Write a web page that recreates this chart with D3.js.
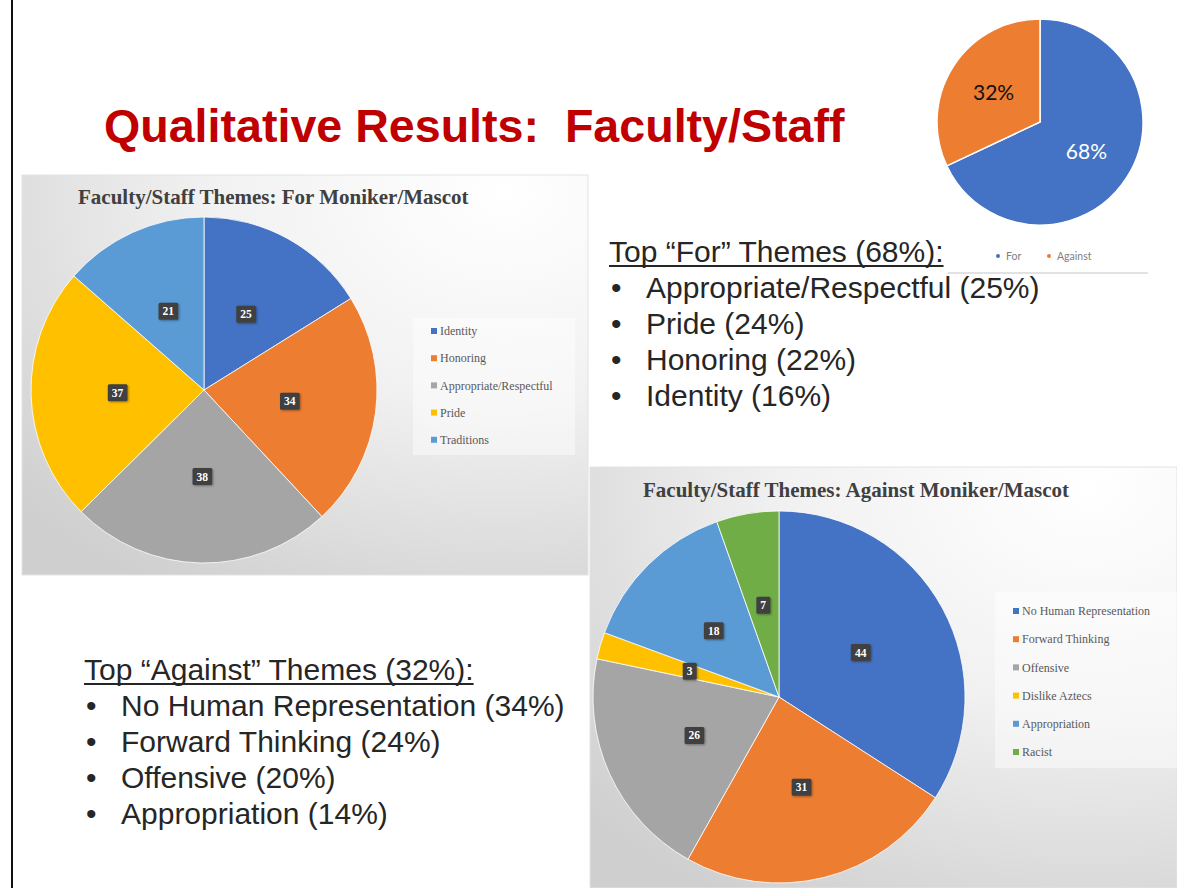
<!DOCTYPE html>
<html>
<head>
<meta charset="utf-8">
<script src="https://cdn.jsdelivr.net/npm/d3@7"></script>
<style>
  html, body { margin: 0; padding: 0; background: #fff; }
  svg { display: block; }
  text { white-space: pre; }
</style>
</head>
<body>
<div id="container"></div>
<script>
// data
const splitLabels = ["For", "Against"]
const splitShares = [68, 32]

const forThemes = ["Identity", "Honoring", "Appropriate/Respectful", "Pride", "Traditions"]
const forCounts = [25, 34, 38, 37, 21]

const againstThemes = ["No Human Representation", "Forward Thinking", "Offensive", "Dislike Aztecs", "Appropriation", "Racist"]
const againstCounts = [44, 31, 26, 3, 18, 7]

const forTop = ["Appropriate/Respectful (25%)", "Pride (24%)", "Honoring (22%)", "Identity (16%)"]
const againstTop = ["No Human Representation (34%)", "Forward Thinking (24%)", "Offensive (20%)", "Appropriation (14%)"]

const officeColors = ["#4472C4", "#ED7D31", "#A5A5A5", "#FFC000", "#5B9BD5", "#70AD47"]

const width = 1177
const height = 888

const svg = d3.select("#container")
	.append("svg")
	.attr("width", width)
	.attr("height", height)

const defs = svg.append("defs")

const grad = defs.append("radialGradient")
	.attr("id", "panelBg")
	.attr("cx", "0.85").attr("cy", "0.05").attr("r", "1.15")
grad.append("stop").attr("offset", "0").attr("stop-color", "#ffffff")
grad.append("stop").attr("offset", "0.45").attr("stop-color", "#f1f1f1")
grad.append("stop").attr("offset", "1").attr("stop-color", "#cfcfcf")

const shadow = defs.append("filter").attr("id", "lblShadow")
	.attr("x", "-30%").attr("y", "-30%").attr("width", "170%").attr("height", "170%")
shadow.append("feDropShadow")
	.attr("dx", 1).attr("dy", 1).attr("stdDeviation", 0.8)
	.attr("flood-color", "#000").attr("flood-opacity", 0.35)

// left rule
svg.append("line")
	.attr("x1", 12).attr("x2", 12)
	.attr("y1", 0).attr("y2", height)
	.attr("stroke", "#111").attr("stroke-width", 2)

// slide title
svg.append("text")
	.attr("x", 104).attr("y", 142)
	.attr("font-family", "'Liberation Sans', Arial, sans-serif")
	.attr("font-weight", "bold")
	.attr("font-size", 46.6)
	.attr("fill", "#C00000")
	.text("Qualitative Results:  Faculty/Staff")

// ---------- small For/Against pie ----------
const splitColor = d3.scaleOrdinal().domain(splitLabels).range(officeColors.slice(0, 2))
const splitData = d3.pie().sort(null).value(d => d.v)(splitLabels.map((k, i) => ({ k, v: splitShares[i] })))
const splitArc = d3.arc().innerRadius(0).outerRadius(103)
const splitG = svg.append("g").attr("transform", "translate(1040,122)")

splitG.selectAll("path")
	.data(splitData)
	.join("path")
	.attr("d", splitArc)
	.attr("fill", d => splitColor(d.data.k))
	.attr("stroke", "#fff")
	.attr("stroke-width", 1.5)

const splitLabelArc = d3.arc().innerRadius(0).outerRadius(110)
splitG.selectAll("text")
	.data(splitData)
	.join("text")
	.attr("transform", d => `translate(${splitLabelArc.centroid(d)})`)
	.attr("text-anchor", "middle")
	.attr("dy", "0.36em")
	.attr("font-family", "Lato, 'Liberation Sans', sans-serif")
	.attr("font-size", 21)
	.attr("fill", (d, i) => i === 0 ? "#fff" : "#111")
	.text(d => d.data.v + "%")

const splitLegend = svg.append("g").attr("transform", "translate(998,256)")
const splitLegendX = d3.scaleOrdinal().domain(splitLabels).range([0, 51])
splitLabels.forEach(k => {
	const g = splitLegend.append("g").attr("transform", `translate(${splitLegendX(k)},0)`)
	g.append("circle").attr("r", 2).attr("fill", splitColor(k))
	g.append("text")
		.attr("x", 8).attr("dy", "0.35em")
		.attr("font-family", "Lato, 'Liberation Sans', sans-serif")
		.attr("font-size", 10.5)
		.attr("fill", "#7f7f7f")
		.text(k)
})

svg.append("line")
	.attr("x1", 948).attr("x2", 1148)
	.attr("y1", 273).attr("y2", 273)
	.attr("stroke", "#d9d9d9").attr("stroke-width", 1.5)

// ---------- themed pie panels ----------
function drawPanel({ x, y, w, h, title, titleX, titleY, labels, values, cx, cy, r, legendBox, legendY0, legendStep }) {
	const g = svg.append("g").attr("transform", `translate(${x},${y})`)

	g.append("rect")
		.attr("width", w).attr("height", h)
		.attr("fill", "url(#panelBg)")
		.attr("stroke", "#e3e3e3")

	g.append("text")
		.attr("x", titleX).attr("y", titleY)
		.attr("font-family", "'Liberation Serif', 'Times New Roman', serif")
		.attr("font-weight", "bold")
		.attr("font-size", 21)
		.attr("fill", "#404040")
		.text(title)

	const color = d3.scaleOrdinal().domain(labels).range(officeColors)
	const slices = d3.pie().sort(null).value(d => d.v)(labels.map((k, i) => ({ k, v: values[i] })))
	const arc = d3.arc().innerRadius(0).outerRadius(r)

	const pieG = g.append("g").attr("transform", `translate(${cx},${cy})`)
	pieG.selectAll("path")
		.data(slices)
		.join("path")
		.attr("d", arc)
		.attr("fill", d => color(d.data.k))
		.attr("stroke", "#fff")
		.attr("stroke-width", 0.8)

	const lbl = pieG.selectAll("g.lbl")
		.data(slices)
		.join("g")
		.attr("class", "lbl")
		.attr("transform", d => `translate(${arc.centroid(d)})`)

	lbl.append("rect")
		.attr("fill", "#404040")
		.attr("rx", 1.5)
		.attr("filter", "url(#lblShadow)")
	lbl.append("text")
		.attr("text-anchor", "middle")
		.attr("dy", "0.35em")
		.attr("font-family", "'Liberation Serif', 'Times New Roman', serif")
		.attr("font-weight", "bold")
		.attr("font-size", 11.5)
		.attr("fill", "#fff")
		.text(d => d.data.v)
	lbl.each(function () {
		const t = d3.select(this).select("text").node().getBBox()
		d3.select(this).select("rect")
			.attr("x", t.x - 4).attr("y", -8.5)
			.attr("width", t.width + 8).attr("height", 17)
	})

	// legend
	g.append("rect")
		.attr("x", legendBox[0]).attr("y", legendBox[1])
		.attr("width", legendBox[2]).attr("height", legendBox[3])
		.attr("fill", "#fff").attr("fill-opacity", 0.45)

	const ly = d3.scaleLinear().domain([0, 1]).range([legendY0, legendY0 + legendStep])
	const leg = g.selectAll("g.leg")
		.data(labels)
		.join("g")
		.attr("class", "leg")
		.attr("transform", (d, i) => `translate(${legendBox[0] + 18},${ly(i)})`)
	leg.append("rect")
		.attr("x", 0).attr("y", -3).attr("width", 6).attr("height", 6)
		.attr("fill", d => color(d))
	leg.append("text")
		.attr("x", 9).attr("dy", "0.35em")
		.attr("font-family", "'Liberation Serif', 'Times New Roman', serif")
		.attr("font-size", 12)
		.attr("fill", "#595959")
		.text(d => d)
}

drawPanel({
	x: 22, y: 175, w: 566, h: 400,
	title: "Faculty/Staff Themes: For Moniker/Mascot", titleX: 56, titleY: 29,
	labels: forThemes, values: forCounts,
	cx: 182, cy: 215, r: 173,
	legendBox: [391, 143, 162, 137], legendY0: 156, legendStep: 27.2
})

drawPanel({
	x: 590, y: 467, w: 587, h: 421,
	title: "Faculty/Staff Themes: Against Moniker/Mascot", titleX: 53, titleY: 30,
	labels: againstThemes, values: againstCounts,
	cx: 189, cy: 230, r: 186,
	legendBox: [405, 125, 182, 176], legendY0: 144, legendStep: 28.2
})

// ---------- bullet text blocks ----------
function drawBullets(x, y, heading, items) {
	const g = svg.append("g").attr("transform", `translate(${x},${y})`)
	const font = "'Liberation Sans', Arial, sans-serif"
	const head = g.append("text")
		.attr("x", 0).attr("y", 0)
		.attr("font-family", font)
		.attr("font-size", 30)
		.attr("fill", "#262626")
		.text(heading)
	const hb = head.node().getBBox()
	g.append("line")
		.attr("x1", 0).attr("x2", hb.width)
		.attr("y1", 4).attr("y2", 4)
		.attr("stroke", "#262626").attr("stroke-width", 1.8)

	const rowY = d3.scaleLinear().domain([0, 1]).range([36, 72])
	items.forEach((t, i) => {
		g.append("text")
			.attr("x", 2).attr("y", rowY(i))
			.attr("font-family", font)
			.attr("font-size", 30)
			.attr("fill", "#262626")
			.text("•")
		g.append("text")
			.attr("x", 37).attr("y", rowY(i))
			.attr("font-family", font)
			.attr("font-size", 30)
			.attr("fill", "#262626")
			.text(t)
	})
}

drawBullets(609, 262, "Top “For” Themes (68%):", forTop)
drawBullets(84, 680, "Top “Against” Themes (32%):", againstTop)
</script>
</body>
</html>
